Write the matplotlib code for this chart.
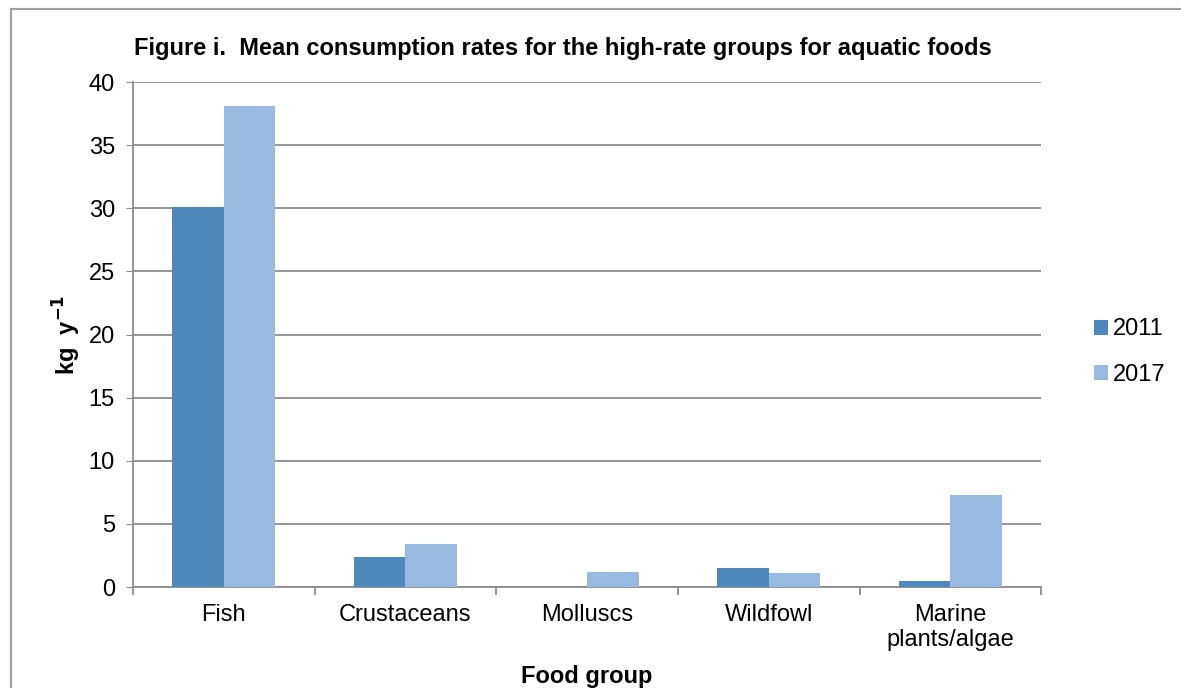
import matplotlib.pyplot as plt
import numpy as np
from matplotlib.lines import Line2D

plt.rcParams['font.family'] = ['Liberation Sans', 'DejaVu Sans']

# data
categories = ['Fish', 'Crustaceans', 'Molluscs', 'Wildfowl', 'Marine\nplants/algae']
years = ['2011', '2017']
rate_2011 = [30.1, 2.4, 0.02, 1.5, 0.45]
rate_2017 = [38.1, 3.4, 1.2, 1.1, 7.3]
y_ticks = [0, 5, 10, 15, 20, 25, 30, 35, 40]

c2011 = '#4f89bb'
c2017 = '#98b9e0'
grey = '#8c8c8c'
fs = 17

fig = plt.figure(figsize=(11.81, 6.88), dpi=100)
ax = fig.add_axes([0.1126, 0.1468, 0.769, 0.734])

x = np.arange(len(categories))
w = 0.284
ax.bar(x - w / 2, rate_2011, w, color=c2011, label=years[0], zorder=3)
ax.bar(x + w / 2, rate_2017, w, color=c2017, label=years[1], zorder=3)

ax.set_xlim(-0.5, len(categories) - 0.5)
ax.set_ylim(0, 40)
ax.set_yticks(y_ticks)
ax.yaxis.grid(True, color=grey, lw=1.3, zorder=0)
ax.tick_params(axis='y', labelsize=fs, length=5, color=grey, pad=8)

# category labels centered, ticks at boundaries
ax.set_xticks(x)
ax.set_xticklabels(categories, fontsize=fs, linespacing=1.2)
ax.tick_params(axis='x', length=0, pad=12)
ax.set_xticks(np.arange(len(categories) + 1) - 0.5, minor=True)
ax.tick_params(axis='x', which='minor', length=6, color=grey, width=1.3)

for s in ['top', 'right']:
    ax.spines[s].set_visible(False)
for s in ['left', 'bottom']:
    ax.spines[s].set_color(grey)
    ax.spines[s].set_linewidth(1.3)

ax.set_xlabel('Food group', fontsize=fs, fontweight='bold', labelpad=10)
ax.set_ylabel('kg  y$^{\\mathbf{-1}}$', fontsize=fs, fontweight='bold', labelpad=4)
fig.text(0.477, 0.93, 'Figure i.  Mean consumption rates for the high-rate groups for aquatic foods',
         ha='center', va='center', fontsize=fs, fontweight='bold')

ax.legend(loc='center left', bbox_to_anchor=(1.035, 0.465), frameon=False, fontsize=fs,
          handlelength=0.6, handleheight=0.6, handletextpad=0.2, labelspacing=1.0)

# outer chart border
fig.add_artist(Line2D([11 / 1181, 1], [1 - 9 / 688, 1 - 9 / 688], color='#a0a0a0', lw=1.5))
fig.add_artist(Line2D([11 / 1181, 11 / 1181], [0, 1 - 9 / 688], color='#a0a0a0', lw=1.5))

fig.savefig('out.png', dpi=100)
